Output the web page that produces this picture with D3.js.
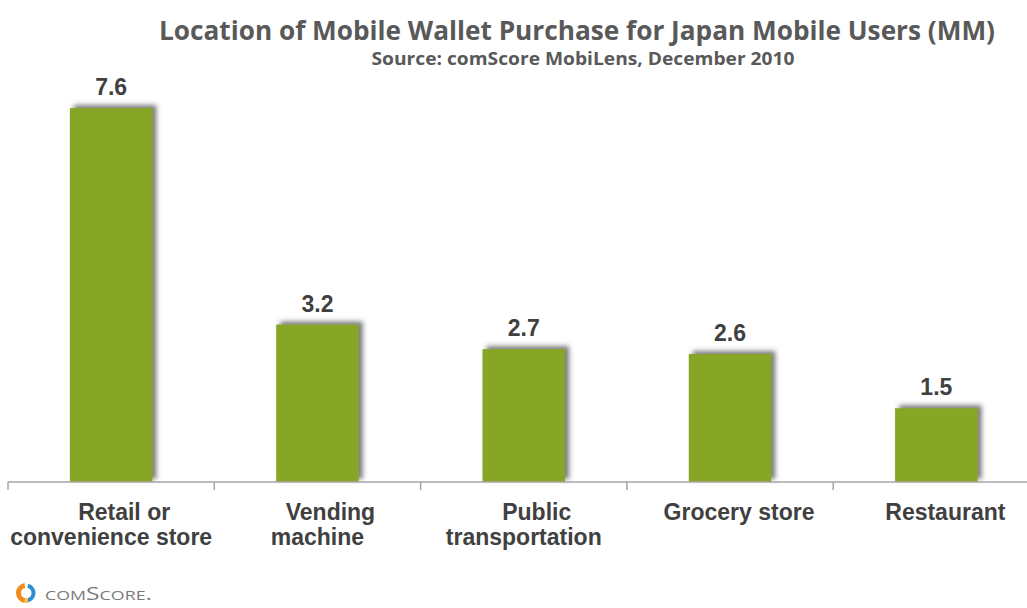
<!DOCTYPE html>
<html lang="en">
<head>
    <meta charset="UTF-8">
    <title>Location of Mobile Wallet Purchase</title>
    <script src="https://cdn.jsdelivr.net/npm/d3@7"></script>
    <style>
        body { margin: 0; background: #fff; }
    </style>
</head>
<body>
    <script>
        const categories = [
            ["Retail or", "convenience store"],
            ["Vending", "machine"],
            ["Public", "transportation"],
            ["Grocery store"],
            ["Restaurant"]
        ];
        const values = [7.6, 3.2, 2.7, 2.6, 1.5];
        const valueLabels = ["7.6", "3.2", "2.7", "2.6", "1.5"];

        const title = "Location of Mobile Wallet Purchase for Japan Mobile Users (MM)";
        const subtitle = "Source: comScore MobiLens, December 2010";

        const width = 1027;
        const height = 608;
        const baseline = 482;

        const svg = d3.select("body").append("svg")
            .attr("width", width)
            .attr("height", height)
            .attr("viewBox", [0, 0, width, height]);

        // soft grey shadow, pushed up and to the right
        const filter = svg.append("defs").append("filter")
            .attr("id", "shadow")
            .attr("x", "-20%").attr("y", "-20%")
            .attr("width", "140%").attr("height", "140%");
        filter.append("feGaussianBlur")
            .attr("in", "SourceAlpha")
            .attr("stdDeviation", 2.5);
        filter.append("feOffset")
            .attr("dx", 4).attr("dy", -3)
            .attr("result", "off");
        filter.append("feFlood").attr("flood-color", "#4d4d4d").attr("flood-opacity", 0.75);
        filter.append("feComposite").attr("in2", "off").attr("operator", "in");
        const merge = filter.append("feMerge");
        merge.append("feMergeNode");
        merge.append("feMergeNode").attr("in", "SourceGraphic");

        const idx = d3.range(values.length);

        const x = d3.scaleBand()
            .domain(idx)
            .range([8, 8 + 5 * 206.3])
            .paddingInner(0.6)
            .paddingOuter(0.3);

        const y = d3.scaleLinear()
            .domain([0, 8])
            .range([baseline, baseline - 8 * 49.2]);

        // titles (squeezed a little to get the narrow Calibri look)
        svg.append("text")
            .attr("x", 577)
            .attr("y", 40)
            .attr("text-anchor", "middle")
            .attr("font-family", "'Open Sans', sans-serif")
            .attr("font-weight", "bold")
            .attr("font-size", 27)
            .attr("fill", "#595959")
            .attr("textLength", 836)
            .attr("lengthAdjust", "spacingAndGlyphs")
            .text(title);

        svg.append("text")
            .attr("x", 583)
            .attr("y", 65)
            .attr("text-anchor", "middle")
            .attr("font-family", "'Open Sans', sans-serif")
            .attr("font-weight", "bold")
            .attr("font-size", 17)
            .attr("fill", "#595959")
            .attr("textLength", 423)
            .attr("lengthAdjust", "spacingAndGlyphs")
            .text(subtitle);

        // bars
        svg.append("g")
            .selectAll("rect")
            .data(idx)
            .join("rect")
            .attr("x", i => x(i))
            .attr("y", i => y(values[i]))
            .attr("width", x.bandwidth())
            .attr("height", i => y(0) - y(values[i]))
            .attr("fill", "#87a628")
            .attr("filter", "url(#shadow)");

        // value labels
        svg.append("g")
            .selectAll("text")
            .data(idx)
            .join("text")
            .attr("x", i => x(i) + x.bandwidth() / 2)
            .attr("y", i => y(values[i]) - 13)
            .attr("text-anchor", "middle")
            .attr("font-family", "'Liberation Sans', Arial, sans-serif")
            .attr("font-weight", "bold")
            .attr("font-size", 23)
            .attr("fill", "#404040")
            .text(i => valueLabels[i]);

        // axis line and tick marks at band edges
        const axis = svg.append("g").attr("stroke", "#a6a6a6").attr("stroke-width", 1.5);
        axis.append("line")
            .attr("x1", 8).attr("x2", width)
            .attr("y1", baseline).attr("y2", baseline);
        const gap = x.step() - x.bandwidth();
        axis.selectAll(".tick")
            .data(idx)
            .join("line")
            .attr("class", "tick")
            .attr("x1", i => x(i) - gap / 2)
            .attr("x2", i => x(i) - gap / 2)
            .attr("y1", baseline)
            .attr("y2", baseline + 8);

        // category labels (first line of wrapped labels sits a bit right, as in the original)
        const labels = svg.append("g")
            .attr("font-family", "'Liberation Sans', Arial, sans-serif")
            .attr("font-weight", "bold")
            .attr("font-size", 23)
            .attr("fill", "#404040")
            .attr("text-anchor", "middle");

        idx.forEach(i => {
            const lines = categories[i];
            const cx = x(i) + x.bandwidth() / 2;
            lines.forEach((line, j) => {
                const dx = lines.length === 1 ? 9 : (j === 0 ? 13 : 0);
                labels.append("text")
                    .attr("x", cx + dx)
                    .attr("y", 520 + j * 25)
                    .text(line);
            });
        });

        // comScore logo
        const logo = svg.append("g").attr("transform", "translate(26,593)");
        const arc = d3.arc();
        logo.append("path")
            .attr("d", arc({ innerRadius: 5, outerRadius: 10, startAngle: Math.PI * 1.05, endAngle: Math.PI * 1.95 }))
            .attr("fill", "#f08c1e");
        logo.append("path")
            .attr("d", arc({ innerRadius: 5.5, outerRadius: 9.5, startAngle: Math.PI * 0.08, endAngle: Math.PI * 0.92 }))
            .attr("fill", "#2b8fd0");
        logo.append("path")
            .attr("d", arc({ innerRadius: 5, outerRadius: 10, startAngle: Math.PI * 0.92, endAngle: Math.PI * 1.05 }))
            .attr("fill", "#f5c342");

        svg.append("text")
            .attr("x", 45)
            .attr("y", 600)
            .attr("font-family", "'Open Sans', sans-serif")
            .attr("font-size", 18)
            .attr("font-variant", "small-caps")
            .attr("fill", "#7a7a7a")
            .attr("textLength", 107)
            .attr("lengthAdjust", "spacingAndGlyphs")
            .text("comScore.");
    </script>
</body>
</html>
